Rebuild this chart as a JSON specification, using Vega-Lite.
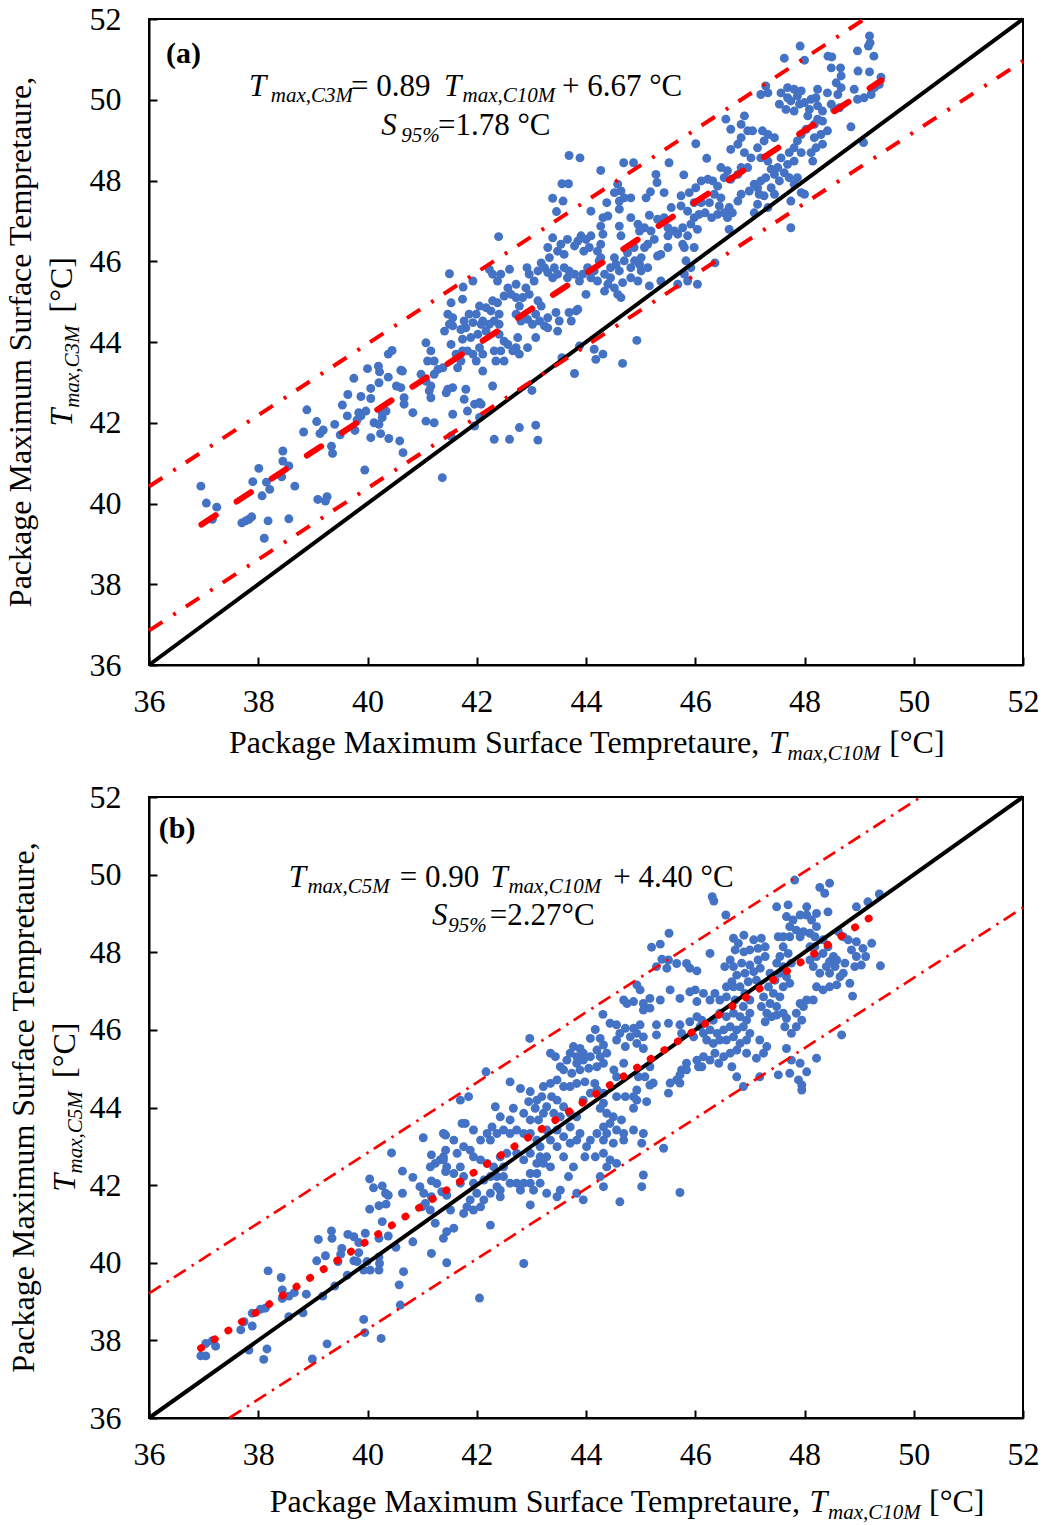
{
"$schema": "https://vega.github.io/schema/vega-lite/v6.json",
"background": "white",
"padding": {"left": 4, "top": 2, "right": 5, "bottom": 0},
"spacing": 15,
"config": {
  "view": {"stroke": "black", "strokeWidth": 2},
  "axis": {"grid": false, "domainColor": "black", "domainWidth": 2, "tickColor": "black", "tickWidth": 2, "tickSize": -8, "labelFont": "Liberation Serif", "labelFontSize": 32, "labelColor": "black", "labelFlush": false, "labelOverlap": false}
},
"datasets": {
"a": [
{"x":36.95,"y":40.43},{"x":37.05,"y":40.01},{"x":37.24,"y":39.91},{"x":37.16,"y":39.61},{"x":37.70,"y":39.52},{"x":37.77,"y":39.57},{"x":37.83,"y":39.61},{"x":37.88,"y":39.67},{"x":38.11,"y":39.14},{"x":38.18,"y":39.57},{"x":38.56,"y":39.62},{"x":38.07,"y":40.19},{"x":37.90,"y":40.54},{"x":38.01,"y":40.87},{"x":38.15,"y":40.53},{"x":38.21,"y":40.35},{"x":38.43,"y":40.66},{"x":38.45,"y":41.05},{"x":38.45,"y":41.30},{"x":38.56,"y":40.93},{"x":38.67,"y":40.43},{"x":39.09,"y":40.10},{"x":39.26,"y":40.17},{"x":39.23,"y":40.06},{"x":38.83,"y":41.77},{"x":38.89,"y":42.32},{"x":39.07,"y":42.03},{"x":39.13,"y":41.73},{"x":39.19,"y":41.82},{"x":39.34,"y":41.42},{"x":39.36,"y":41.24},{"x":39.40,"y":41.96},{"x":39.50,"y":41.70},{"x":39.54,"y":42.44},{"x":39.64,"y":42.70},{"x":39.63,"y":42.17},{"x":39.75,"y":43.10},{"x":39.77,"y":41.81},{"x":39.84,"y":42.25},{"x":39.88,"y":42.17},{"x":39.81,"y":42.07},{"x":39.88,"y":42.65},{"x":39.97,"y":42.29},{"x":40.00,"y":43.34},{"x":40.06,"y":42.85},{"x":40.06,"y":42.60},{"x":39.95,"y":40.83},{"x":40.06,"y":41.63},{"x":40.12,"y":42.00},{"x":40.21,"y":41.96},{"x":40.27,"y":42.13},{"x":40.20,"y":43.40},{"x":40.22,"y":43.26},{"x":40.21,"y":42.99},{"x":40.27,"y":42.25},{"x":40.34,"y":42.29},{"x":40.24,"y":41.73},{"x":40.39,"y":41.61},{"x":40.38,"y":43.13},{"x":40.38,"y":43.70},{"x":40.45,"y":43.79},{"x":40.53,"y":42.91},{"x":40.61,"y":43.30},{"x":40.59,"y":41.55},{"x":40.65,"y":41.26},{"x":41.37,"y":40.64},
{"x":43.69,"y":48.62},{"x":43.89,"y":48.56},{"x":44.27,"y":48.25},{"x":44.69,"y":48.44},{"x":44.87,"y":48.44},{"x":45.52,"y":48.44},{"x":46.01,"y":48.91},{"x":45.28,"y":48.15},{"x":45.30,"y":47.95},{"x":45.79,"y":48.14},{"x":43.56,"y":47.92},{"x":43.68,"y":47.92},{"x":43.39,"y":47.56},{"x":43.58,"y":47.49},{"x":43.46,"y":47.23},{"x":44.58,"y":47.91},{"x":44.64,"y":47.74},{"x":44.52,"y":47.70},{"x":44.70,"y":47.57},{"x":44.82,"y":47.57},{"x":44.61,"y":47.49},{"x":44.38,"y":47.45},{"x":45.18,"y":47.72},{"x":45.10,"y":47.57},{"x":45.43,"y":47.70},{"x":45.74,"y":47.62},{"x":45.89,"y":47.70},{"x":46.01,"y":47.82},{"x":45.98,"y":47.45},{"x":45.74,"y":47.37},{"x":45.56,"y":47.33},{"x":45.86,"y":47.24},{"x":45.98,"y":47.08},{"x":46.07,"y":47.16},{"x":44.09,"y":47.24},{"x":44.31,"y":47.08},{"x":44.40,"y":47.12},{"x":44.61,"y":47.29},{"x":44.82,"y":47.08},{"x":45.16,"y":47.14},{"x":45.31,"y":47.04},{"x":45.43,"y":47.08},{"x":44.27,"y":46.87},{"x":44.31,"y":46.67},{"x":44.61,"y":46.87},{"x":44.64,"y":46.63},{"x":44.95,"y":46.92},{"x":45.07,"y":46.83},{"x":44.98,"y":46.75},{"x":45.19,"y":46.75},{"x":45.25,"y":46.54},{"x":45.13,"y":46.42},{"x":45.50,"y":46.83},{"x":45.62,"y":46.75},{"x":45.77,"y":46.83},{"x":45.92,"y":46.92},{"x":46.04,"y":46.79},{"x":45.50,"y":46.63},{"x":45.68,"y":46.67},{"x":45.86,"y":46.63},{"x":45.98,"y":46.34},{"x":45.80,"y":46.34},{"x":45.77,"y":46.42},{"x":45.50,"y":46.34},{"x":45.37,"y":46.17},{"x":45.31,"y":46.13},{"x":45.07,"y":46.34},{"x":45.01,"y":46.09},{"x":44.98,"y":45.92},{"x":44.88,"y":46.34},{"x":44.76,"y":46.21},{"x":44.70,"y":46.01},{"x":44.82,"y":45.84},{"x":44.52,"y":46.09},{"x":44.55,"y":45.92},{"x":44.61,"y":45.76},{"x":44.27,"y":46.42},{"x":44.21,"y":46.25},{"x":44.27,"y":46.09},{"x":43.91,"y":46.63},{"x":44.00,"y":46.54},{"x":44.09,"y":46.63},{"x":43.85,"y":46.50},{"x":43.79,"y":46.38},{"x":43.96,"y":46.25},{"x":44.06,"y":46.34},{"x":43.66,"y":46.54},{"x":43.54,"y":46.42},{"x":43.48,"y":46.25},{"x":43.60,"y":46.17},{"x":43.39,"y":46.58},{"x":43.30,"y":46.34},{"x":43.33,"y":46.09},{"x":43.18,"y":45.96},{"x":43.24,"y":45.84},{"x":43.12,"y":45.76},{"x":43.42,"y":45.84},{"x":43.48,"y":45.68},{"x":43.39,"y":45.59},{"x":43.60,"y":45.84},{"x":43.69,"y":45.76},{"x":43.66,"y":45.59},{"x":43.79,"y":45.68},{"x":43.88,"y":45.51},{"x":43.94,"y":45.68},{"x":44.03,"y":45.84},{"x":44.15,"y":45.76},{"x":44.09,"y":45.59},{"x":44.21,"y":45.51},{"x":44.34,"y":45.68},{"x":44.40,"y":45.43},{"x":44.34,"y":45.26},{"x":44.24,"y":46.01},{"x":44.45,"y":45.84},{"x":44.45,"y":45.59},{"x":44.52,"y":45.34},{"x":44.58,"y":45.18},{"x":44.64,"y":45.10},{"x":44.67,"y":45.47},{"x":44.82,"y":45.59},{"x":44.95,"y":45.51},{"x":44.89,"y":46.01},{"x":45.01,"y":45.76},{"x":45.13,"y":45.84},{"x":45.16,"y":45.39},{"x":45.37,"y":45.51},{"x":45.68,"y":45.43},{"x":45.86,"y":45.51},{"x":46.04,"y":45.43},{"x":44.00,"y":45.18},{"x":43.82,"y":44.77},{"x":43.69,"y":44.73},{"x":43.73,"y":44.52},{"x":43.85,"y":44.81},{"x":43.45,"y":44.73},{"x":43.51,"y":44.52},{"x":43.48,"y":44.27},{"x":43.30,"y":44.60},{"x":43.24,"y":44.40},{"x":43.30,"y":44.35},{"x":43.12,"y":45.02},{"x":43.18,"y":44.89},{"x":43.08,"y":44.69},{"x":43.15,"y":44.52},{"x":42.93,"y":44.56},{"x":43.02,"y":44.44},{"x":43.05,"y":45.51},{"x":42.90,"y":45.34},{"x":42.96,"y":45.18},{"x":42.84,"y":45.10},{"x":42.72,"y":45.10},{"x":42.92,"y":45.84},{"x":42.96,"y":45.68},{"x":42.78,"y":44.89},{"x":42.72,"y":44.69},{"x":42.81,"y":44.52},{"x":42.75,"y":44.11},{"x":42.72,"y":43.86},{"x":42.60,"y":45.80},{"x":42.44,"y":45.68},{"x":42.38,"y":45.51},{"x":42.57,"y":45.34},{"x":42.23,"y":45.80},{"x":42.29,"y":45.68},{"x":42.40,"y":46.61},{"x":42.63,"y":45.18},{"x":42.50,"y":45.14},{"x":42.38,"y":44.97},{"x":42.29,"y":45.02},{"x":42.41,"y":44.69},{"x":42.26,"y":44.77},{"x":42.32,"y":44.52},{"x":42.17,"y":44.85},{"x":42.05,"y":44.89},{"x":41.99,"y":44.69},{"x":42.11,"y":44.52},{"x":42.41,"y":44.44},{"x":42.41,"y":44.19},{"x":42.50,"y":44.02},{"x":42.44,"y":43.78},{"x":42.50,"y":43.53},{"x":42.32,"y":43.78},{"x":42.35,"y":43.53},{"x":42.57,"y":43.94},{"x":42.66,"y":43.78},{"x":42.78,"y":43.70},{"x":42.93,"y":43.86},{"x":43.08,"y":44.11},{"x":42.23,"y":44.44},{"x":42.17,"y":44.27},{"x":42.08,"y":44.44},{"x":41.93,"y":44.48},{"x":42.02,"y":44.19},{"x":41.89,"y":44.11},{"x":41.74,"y":44.07},{"x":41.80,"y":44.35},{"x":41.83,"y":43.78},{"x":41.93,"y":43.70},{"x":42.05,"y":43.86},{"x":42.11,"y":43.70},{"x":41.99,"y":43.53},{"x":42.11,"y":43.28},{"x":41.74,"y":43.78},{"x":41.62,"y":43.70},{"x":41.71,"y":43.53},{"x":41.65,"y":43.36},{"x":41.53,"y":43.94},{"x":41.41,"y":44.27},{"x":41.56,"y":44.40},{"x":41.71,"y":44.31},{"x":41.53,"y":44.97},{"x":41.74,"y":45.06},{"x":41.86,"y":44.69},{"x":41.77,"y":44.52},{"x":41.75,"y":45.36},{"x":41.93,"y":45.51},{"x":41.50,"y":45.69},{"x":41.47,"y":44.69},{"x":41.56,"y":44.60},{"x":41.50,"y":44.44},{"x":41.07,"y":43.98},{"x":41.16,"y":43.78},{"x":41.22,"y":43.53},{"x":41.10,"y":43.53},{"x":40.98,"y":43.20},{"x":41.07,"y":43.03},{"x":41.22,"y":43.20},{"x":41.29,"y":43.32},{"x":41.38,"y":43.36},{"x":41.16,"y":42.91},{"x":41.13,"y":42.79},{"x":41.16,"y":42.62},{"x":41.47,"y":42.83},{"x":41.44,"y":42.74},{"x":41.56,"y":42.87},{"x":41.80,"y":42.83},{"x":41.77,"y":42.58},{"x":41.83,"y":42.29},{"x":41.96,"y":42.46},{"x":42.05,"y":42.50},{"x":42.08,"y":42.46},{"x":41.56,"y":42.21},{"x":42.29,"y":42.91},{"x":42.05,"y":42.13},{"x":41.96,"y":41.92},{"x":41.07,"y":42.04},{"x":41.22,"y":42.00},{"x":40.83,"y":42.25},{"x":40.67,"y":42.46},{"x":40.67,"y":42.62},{"x":40.64,"y":43.28},{"x":40.61,"y":42.87},{"x":41.53,"y":41.67},{"x":42.32,"y":41.59},{"x":42.60,"y":41.59},{"x":42.78,"y":41.88},{"x":43.08,"y":41.94},{"x":43.12,"y":41.57},{"x":43.01,"y":42.80},{"x":43.56,"y":43.61},{"x":43.88,"y":43.90},{"x":43.79,"y":43.22},{"x":44.15,"y":43.82},{"x":44.18,"y":43.57},{"x":44.31,"y":43.70},{"x":44.67,"y":43.47},{"x":44.93,"y":44.04},{"x":43.30,"y":45.72},{"x":42.72,"y":45.43},
{"x":49.19,"y":51.58},{"x":49.20,"y":51.41},{"x":49.17,"y":51.33},{"x":47.92,"y":51.33},{"x":47.63,"y":51.03},{"x":48.00,"y":50.98},{"x":48.43,"y":51.08},{"x":48.50,"y":51.06},{"x":48.49,"y":50.79},{"x":48.97,"y":51.21},{"x":49.27,"y":51.08},{"x":48.66,"y":50.79},{"x":48.67,"y":50.59},{"x":48.98,"y":50.71},{"x":49.19,"y":50.69},{"x":49.40,"y":50.56},{"x":49.37,"y":50.38},{"x":49.28,"y":50.30},{"x":49.22,"y":50.13},{"x":49.09,"y":50.05},{"x":48.97,"y":50.01},{"x":48.91,"y":50.26},{"x":48.58,"y":50.42},{"x":48.67,"y":50.30},{"x":48.61,"y":50.13},{"x":48.49,"y":49.89},{"x":48.55,"y":49.76},{"x":48.64,"y":49.80},{"x":48.24,"y":50.26},{"x":48.42,"y":50.17},{"x":47.29,"y":50.34},{"x":47.33,"y":50.17},{"x":47.20,"y":50.13},{"x":47.57,"y":50.17},{"x":47.69,"y":50.30},{"x":47.81,"y":50.26},{"x":47.94,"y":50.22},{"x":47.87,"y":50.09},{"x":47.75,"y":49.97},{"x":47.69,"y":50.05},{"x":47.54,"y":49.89},{"x":47.66,"y":49.76},{"x":47.81,"y":49.72},{"x":47.91,"y":49.89},{"x":48.00,"y":49.93},{"x":48.12,"y":50.01},{"x":48.21,"y":50.05},{"x":48.09,"y":49.76},{"x":48.24,"y":49.85},{"x":48.33,"y":49.72},{"x":48.24,"y":49.52},{"x":48.06,"y":49.60},{"x":48.18,"y":49.39},{"x":48.33,"y":49.47},{"x":48.42,"y":49.23},{"x":48.30,"y":49.14},{"x":48.18,"y":49.06},{"x":48.33,"y":48.90},{"x":48.21,"y":48.81},{"x":48.12,"y":48.69},{"x":48.15,"y":48.48},{"x":48.85,"y":49.33},{"x":49.08,"y":48.94},{"x":48.03,"y":49.27},{"x":47.94,"y":49.14},{"x":47.87,"y":48.98},{"x":47.81,"y":48.81},{"x":47.72,"y":48.69},{"x":47.94,"y":48.69},{"x":47.81,"y":48.48},{"x":47.69,"y":48.40},{"x":47.57,"y":48.56},{"x":47.51,"y":48.32},{"x":47.63,"y":48.19},{"x":47.72,"y":48.07},{"x":47.87,"y":48.07},{"x":47.81,"y":47.91},{"x":47.94,"y":47.70},{"x":48.00,"y":47.66},{"x":47.75,"y":47.49},{"x":47.45,"y":48.15},{"x":47.54,"y":47.99},{"x":47.39,"y":47.82},{"x":47.45,"y":47.66},{"x":47.33,"y":47.33},{"x":47.26,"y":47.62},{"x":47.17,"y":47.66},{"x":47.14,"y":47.82},{"x":47.20,"y":47.99},{"x":47.29,"y":48.07},{"x":47.39,"y":48.28},{"x":47.33,"y":48.48},{"x":47.20,"y":48.56},{"x":47.14,"y":48.81},{"x":47.26,"y":48.98},{"x":47.33,"y":49.14},{"x":47.23,"y":49.23},{"x":47.45,"y":49.06},{"x":46.90,"y":49.60},{"x":46.56,"y":49.52},{"x":46.65,"y":49.27},{"x":46.84,"y":49.39},{"x":46.96,"y":49.23},{"x":47.05,"y":49.23},{"x":46.84,"y":49.06},{"x":46.78,"y":48.90},{"x":46.65,"y":48.77},{"x":46.90,"y":48.69},{"x":47.02,"y":48.56},{"x":46.96,"y":48.32},{"x":46.84,"y":48.32},{"x":46.78,"y":48.15},{"x":46.65,"y":48.03},{"x":46.53,"y":48.07},{"x":46.47,"y":48.32},{"x":46.59,"y":48.24},{"x":46.21,"y":48.55},{"x":46.11,"y":47.99},{"x":46.23,"y":48.03},{"x":46.32,"y":47.99},{"x":46.41,"y":47.86},{"x":46.35,"y":47.66},{"x":46.47,"y":47.57},{"x":46.44,"y":47.37},{"x":46.26,"y":47.45},{"x":46.11,"y":47.45},{"x":46.18,"y":47.20},{"x":46.30,"y":47.08},{"x":46.41,"y":47.16},{"x":46.53,"y":47.20},{"x":46.62,"y":47.33},{"x":46.68,"y":47.20},{"x":46.59,"y":47.08},{"x":46.62,"y":46.79},{"x":46.78,"y":47.49},{"x":46.84,"y":47.66},{"x":46.99,"y":47.74},{"x":47.08,"y":47.91},{"x":47.14,"y":47.41},{"x":47.08,"y":47.20},{"x":47.75,"y":46.83},{"x":46.36,"y":45.96},{"x":45.83,"y":46.01},{"x":45.92,"y":45.84},{"x":45.80,"y":45.68}
],
"b": [
{"x":36.95,"y":37.60},{"x":37.04,"y":37.60},{"x":37.04,"y":37.92},{"x":37.16,"y":37.99},{"x":37.22,"y":37.85},{"x":37.68,"y":38.27},{"x":37.74,"y":38.48},{"x":37.89,"y":38.37},{"x":37.83,"y":37.75},{"x":38.16,"y":37.78},{"x":38.10,"y":37.51},{"x":37.89,"y":38.70},{"x":38.04,"y":38.80},{"x":38.13,"y":38.83},{"x":38.56,"y":38.61},{"x":38.82,"y":38.71},{"x":38.44,"y":39.08},{"x":38.44,"y":39.30},{"x":38.56,"y":39.14},{"x":38.66,"y":39.23},{"x":38.42,"y":39.62},{"x":38.18,"y":39.79},{"x":38.88,"y":39.19},{"x":39.18,"y":39.14},{"x":39.40,"y":39.40},{"x":39.63,"y":39.68},{"x":39.07,"y":40.05},{"x":39.23,"y":40.18},{"x":39.46,"y":40.03},{"x":39.10,"y":40.60},{"x":39.34,"y":40.82},{"x":39.35,"y":40.63},{"x":39.51,"y":40.22},{"x":39.53,"y":40.37},{"x":39.64,"y":40.73},{"x":39.75,"y":40.67},{"x":39.84,"y":40.52},{"x":39.96,"y":40.76},{"x":39.75,"y":40.05},{"x":39.84,"y":40.26},{"x":39.81,"y":40.03},{"x":39.93,"y":39.81},{"x":39.99,"y":40.03},{"x":40.05,"y":39.81},{"x":40.21,"y":39.81},{"x":40.22,"y":39.98},{"x":40.21,"y":40.15},{"x":40.04,"y":41.38},{"x":40.04,"y":42.16},{"x":40.11,"y":41.93},{"x":40.27,"y":41.98},{"x":40.33,"y":41.79},{"x":40.38,"y":41.74},{"x":40.34,"y":41.51},{"x":40.21,"y":41.47},{"x":40.27,"y":41.06},{"x":40.21,"y":40.63},{"x":40.38,"y":40.69},{"x":40.44,"y":42.83},{"x":40.52,"y":40.40},{"x":40.64,"y":42.36},{"x":40.64,"y":41.79},{"x":40.83,"y":42.20},{"x":40.66,"y":39.77},{"x":40.58,"y":39.43},{"x":40.60,"y":38.91},{"x":39.93,"y":38.54},{"x":39.95,"y":38.20},{"x":40.25,"y":38.05},{"x":39.26,"y":37.91},{"x":38.99,"y":37.52},{"x":40.83,"y":40.54},{"x":41.02,"y":43.22},{"x":40.96,"y":41.96},{"x":41.03,"y":41.79},{"x":41.17,"y":41.70},{"x":41.06,"y":41.53},{"x":41.15,"y":41.36},{"x":41.00,"y":41.44},{"x":41.17,"y":42.78},{"x":41.15,"y":42.47},{"x":41.24,"y":42.56},{"x":41.33,"y":42.65},{"x":41.39,"y":42.73},{"x":41.43,"y":43.29},{"x":41.45,"y":42.47},{"x":41.43,"y":42.35},{"x":41.17,"y":42.11},{"x":41.24,"y":41.02},{"x":41.17,"y":40.24},{"x":41.39,"y":40.63},{"x":41.45,"y":40.80},{"x":41.45,"y":40.00},{"x":41.36,"y":41.83},{"x":41.45,"y":41.74},{"x":42.05,"y":39.09},{"x":42.86,"y":39.98},
{"x":45.52,"y":48.49},{"x":45.20,"y":48.13},{"x":45.36,"y":48.21},{"x":45.39,"y":47.82},{"x":45.51,"y":47.80},{"x":45.29,"y":47.63},{"x":45.48,"y":47.59},{"x":45.66,"y":47.71},{"x":45.84,"y":47.71},{"x":45.90,"y":47.59},{"x":46.03,"y":47.52},{"x":44.93,"y":47.16},{"x":44.99,"y":47.03},{"x":45.54,"y":47.03},{"x":45.72,"y":46.81},{"x":45.90,"y":46.98},{"x":46.00,"y":47.03},{"x":46.03,"y":46.73},{"x":45.17,"y":46.81},{"x":45.36,"y":46.77},{"x":45.05,"y":46.68},{"x":44.75,"y":46.68},{"x":44.69,"y":46.77},{"x":44.87,"y":46.73},{"x":45.05,"y":46.51},{"x":45.17,"y":46.56},{"x":44.31,"y":46.40},{"x":44.44,"y":46.17},{"x":44.56,"y":46.13},{"x":44.72,"y":46.04},{"x":44.87,"y":46.04},{"x":44.99,"y":46.13},{"x":44.93,"y":45.91},{"x":45.05,"y":45.82},{"x":44.81,"y":45.82},{"x":44.62,"y":45.91},{"x":44.56,"y":45.74},{"x":44.72,"y":45.57},{"x":44.93,"y":45.65},{"x":45.05,"y":45.52},{"x":45.29,"y":46.13},{"x":45.29,"y":45.87},{"x":45.51,"y":46.17},{"x":45.72,"y":46.13},{"x":45.90,"y":46.21},{"x":46.03,"y":46.34},{"x":46.12,"y":46.25},{"x":45.75,"y":45.91},{"x":45.97,"y":45.82},{"x":44.17,"y":46.01},{"x":44.26,"y":45.78},{"x":44.08,"y":45.78},{"x":42.97,"y":45.78},{"x":43.77,"y":45.57},{"x":43.89,"y":45.52},{"x":43.95,"y":45.40},{"x":43.83,"y":45.31},{"x":43.71,"y":45.40},{"x":43.65,"y":45.22},{"x":43.83,"y":45.14},{"x":43.95,"y":45.22},{"x":44.08,"y":45.31},{"x":44.20,"y":45.48},{"x":44.32,"y":45.61},{"x":44.38,"y":45.40},{"x":44.26,"y":45.31},{"x":44.32,"y":45.14},{"x":44.20,"y":45.05},{"x":44.05,"y":45.01},{"x":43.89,"y":44.97},{"x":43.74,"y":44.88},{"x":43.59,"y":44.97},{"x":43.53,"y":45.05},{"x":43.44,"y":45.31},{"x":43.35,"y":45.40},{"x":44.69,"y":45.14},{"x":44.51,"y":44.97},{"x":44.56,"y":44.79},{"x":45.17,"y":44.58},{"x":44.96,"y":44.79},{"x":44.93,"y":44.45},{"x":45.51,"y":44.37},{"x":45.66,"y":44.71},{"x":45.75,"y":44.97},{"x":45.84,"y":45.14},{"x":46.03,"y":45.22},{"x":46.12,"y":45.05},{"x":45.84,"y":44.97},{"x":45.72,"y":44.84},{"x":44.87,"y":44.28},{"x":44.93,"y":44.19},{"x":45.11,"y":44.15},{"x":44.87,"y":43.98},{"x":44.72,"y":44.28},{"x":44.56,"y":44.28},{"x":44.32,"y":44.11},{"x":44.26,"y":43.98},{"x":44.38,"y":43.85},{"x":44.50,"y":43.76},{"x":44.65,"y":43.68},{"x":44.44,"y":43.59},{"x":44.32,"y":43.50},{"x":44.38,"y":43.33},{"x":44.56,"y":43.42},{"x":44.69,"y":43.33},{"x":44.87,"y":43.42},{"x":44.69,"y":43.16},{"x":44.50,"y":43.08},{"x":44.32,"y":43.16},{"x":44.20,"y":43.33},{"x":44.08,"y":43.16},{"x":45.02,"y":43.08},{"x":45.05,"y":43.33},{"x":45.42,"y":42.95},{"x":44.01,"y":42.99},{"x":43.98,"y":42.73},{"x":44.17,"y":42.73},{"x":44.32,"y":42.82},{"x":44.44,"y":42.65},{"x":44.56,"y":42.56},{"x":44.38,"y":42.47},{"x":45.05,"y":42.26},{"x":45.02,"y":41.96},{"x":44.32,"y":41.96},{"x":44.26,"y":42.22},{"x":44.62,"y":41.57},{"x":45.72,"y":41.81},{"x":43.95,"y":41.62},{"x":43.83,"y":41.79},{"x":43.53,"y":41.87},{"x":43.47,"y":41.70},{"x":43.28,"y":41.79},{"x":43.77,"y":42.47},{"x":43.68,"y":42.22},{"x":43.59,"y":42.73},{"x":43.47,"y":42.99},{"x":43.35,"y":43.16},{"x":43.28,"y":43.42},{"x":43.47,"y":43.42},{"x":43.59,"y":43.25},{"x":43.71,"y":43.08},{"x":43.83,"y":43.16},{"x":43.89,"y":43.33},{"x":43.71,"y":43.50},{"x":43.53,"y":43.76},{"x":43.41,"y":43.85},{"x":43.28,"y":44.02},{"x":43.47,"y":44.19},{"x":43.59,"y":44.02},{"x":43.71,"y":43.85},{"x":43.83,"y":43.76},{"x":43.95,"y":44.19},{"x":44.08,"y":44.37},{"x":44.20,"y":44.45},{"x":44.32,"y":44.37},{"x":44.16,"y":44.62},{"x":43.98,"y":44.66},{"x":43.83,"y":44.62},{"x":43.71,"y":44.54},{"x":43.59,"y":44.54},{"x":43.47,"y":44.71},{"x":43.35,"y":44.62},{"x":43.22,"y":44.54},{"x":43.19,"y":44.28},{"x":43.37,"y":44.28},
{"x":42.61,"y":44.66},{"x":42.80,"y":44.49},{"x":42.98,"y":44.41},{"x":42.95,"y":44.15},{"x":43.10,"y":44.19},{"x":43.07,"y":43.98},{"x":43.22,"y":43.85},{"x":43.13,"y":43.68},{"x":42.98,"y":43.68},{"x":42.86,"y":43.85},{"x":42.67,"y":43.98},{"x":42.61,"y":43.68},{"x":42.43,"y":43.76},{"x":42.34,"y":44.02},{"x":42.28,"y":43.50},{"x":42.19,"y":43.33},{"x":42.07,"y":43.16},{"x":42.25,"y":43.16},{"x":42.37,"y":43.33},{"x":42.49,"y":43.42},{"x":42.61,"y":43.33},{"x":42.73,"y":43.42},{"x":42.86,"y":43.33},{"x":42.98,"y":43.33},{"x":43.10,"y":43.16},{"x":43.16,"y":42.99},{"x":42.98,"y":42.82},{"x":42.86,"y":42.65},{"x":42.73,"y":42.82},{"x":42.55,"y":42.82},{"x":42.43,"y":42.73},{"x":42.49,"y":42.47},{"x":42.31,"y":42.47},{"x":42.19,"y":42.56},{"x":42.07,"y":42.65},{"x":41.94,"y":42.73},{"x":41.88,"y":42.90},{"x":41.76,"y":42.99},{"x":41.64,"y":42.82},{"x":41.58,"y":43.16},{"x":41.39,"y":43.33},{"x":41.43,"y":42.90},{"x":41.39,"y":42.65},{"x":41.27,"y":42.04},{"x":41.58,"y":42.30},{"x":41.70,"y":42.47},{"x":41.76,"y":42.22},{"x":41.70,"y":42.05},{"x":41.94,"y":42.05},{"x":42.00,"y":41.79},{"x":41.88,"y":41.62},{"x":41.82,"y":41.44},{"x":41.94,"y":41.36},{"x":42.07,"y":41.44},{"x":42.13,"y":41.62},{"x":42.25,"y":41.79},{"x":42.37,"y":41.96},{"x":42.37,"y":42.22},{"x":42.25,"y":42.22},{"x":42.13,"y":42.13},{"x":42.49,"y":42.22},{"x":42.43,"y":41.87},{"x":42.43,"y":41.70},{"x":42.61,"y":42.05},{"x":42.73,"y":42.05},{"x":42.80,"y":41.87},{"x":42.86,"y":42.05},{"x":42.98,"y":42.05},{"x":42.98,"y":42.30},{"x":43.10,"y":42.30},{"x":43.10,"y":42.56},{"x":43.22,"y":42.56},{"x":43.35,"y":42.47},{"x":43.28,"y":42.73},{"x":43.16,"y":42.73},{"x":43.16,"y":42.05},{"x":42.98,"y":41.49},{"x":43.04,"y":41.87},{"x":42.25,"y":40.97},{"x":41.76,"y":41.27},{"x":41.52,"y":41.36},{"x":41.58,"y":40.89},{"x":42.17,"y":44.92},{"x":41.70,"y":44.19},{"x":41.85,"y":44.28},{"x":41.73,"y":43.59},{"x":41.79,"y":43.59},{"x":41.94,"y":43.42},
{"x":47.82,"y":49.86},{"x":46.31,"y":49.43},{"x":46.34,"y":49.32},{"x":46.56,"y":48.96},{"x":47.49,"y":49.17},{"x":47.70,"y":49.22},{"x":48.04,"y":49.17},{"x":48.28,"y":49.67},{"x":48.37,"y":49.52},{"x":48.46,"y":49.78},{"x":48.22,"y":49.00},{"x":48.43,"y":49.04},{"x":48.95,"y":49.17},{"x":49.16,"y":49.30},{"x":49.37,"y":49.50},{"x":47.67,"y":48.92},{"x":47.79,"y":48.83},{"x":47.92,"y":48.96},{"x":48.04,"y":48.96},{"x":48.13,"y":48.83},{"x":48.22,"y":48.66},{"x":47.73,"y":48.66},{"x":47.85,"y":48.57},{"x":47.98,"y":48.53},{"x":48.10,"y":48.49},{"x":47.92,"y":48.40},{"x":47.73,"y":48.40},{"x":47.61,"y":48.40},{"x":47.52,"y":48.40},{"x":48.19,"y":48.40},{"x":48.34,"y":48.32},{"x":48.62,"y":48.53},{"x":48.43,"y":48.14},{"x":48.53,"y":47.89},{"x":48.46,"y":47.76},{"x":48.56,"y":47.63},{"x":48.95,"y":48.27},{"x":49.12,"y":47.89},{"x":49.23,"y":48.23},{"x":49.04,"y":47.67},{"x":48.92,"y":47.63},{"x":49.39,"y":47.65},{"x":48.71,"y":47.46},{"x":48.83,"y":47.20},{"x":48.65,"y":47.37},{"x":48.59,"y":47.16},{"x":48.88,"y":46.87},{"x":48.68,"y":45.87},{"x":47.61,"y":48.14},{"x":47.70,"y":47.97},{"x":47.55,"y":47.89},{"x":47.76,"y":47.72},{"x":47.61,"y":47.63},{"x":47.49,"y":47.72},{"x":47.55,"y":47.46},{"x":47.67,"y":47.37},{"x":47.73,"y":47.20},{"x":47.61,"y":47.11},{"x":47.46,"y":47.28},{"x":47.37,"y":47.46},{"x":47.34,"y":47.11},{"x":47.43,"y":46.94},{"x":47.55,"y":46.85},{"x":47.49,"y":46.60},{"x":47.37,"y":46.68},{"x":47.25,"y":46.85},{"x":47.21,"y":46.60},{"x":47.31,"y":46.43},{"x":47.28,"y":46.21},{"x":47.40,"y":46.34},{"x":47.49,"y":46.38},{"x":47.61,"y":46.43},{"x":47.67,"y":46.30},{"x":47.64,"y":46.08},{"x":47.76,"y":45.91},{"x":47.85,"y":46.08},{"x":47.95,"y":46.25},{"x":47.85,"y":46.43},{"x":47.92,"y":46.68},{"x":47.98,"y":46.60},{"x":48.04,"y":46.77},{"x":48.16,"y":46.77},{"x":48.22,"y":47.11},{"x":48.28,"y":47.46},{"x":48.16,"y":47.63},{"x":48.10,"y":47.80},{"x":48.22,"y":47.89},{"x":48.34,"y":47.97},{"x":48.40,"y":47.63},{"x":48.46,"y":47.46},{"x":48.46,"y":47.11},{"x":48.34,"y":47.03},{"x":48.19,"y":48.14},{"x":48.10,"y":48.14},{"x":46.27,"y":47.97},{"x":46.70,"y":48.36},{"x":46.89,"y":48.44},{"x":46.79,"y":48.23},{"x":47.07,"y":48.32},{"x":47.21,"y":48.36},{"x":47.28,"y":48.14},{"x":47.15,"y":48.10},{"x":47.00,"y":48.06},{"x":46.89,"y":48.01},{"x":46.73,"y":48.06},{"x":46.64,"y":47.80},{"x":46.54,"y":47.63},{"x":46.70,"y":47.63},{"x":46.85,"y":47.72},{"x":47.00,"y":47.67},{"x":47.15,"y":47.80},{"x":47.28,"y":47.89},{"x":47.19,"y":47.59},{"x":47.07,"y":47.50},{"x":46.91,"y":47.46},{"x":46.76,"y":47.41},{"x":46.67,"y":47.24},{"x":46.57,"y":47.11},{"x":46.70,"y":47.11},{"x":46.82,"y":47.11},{"x":46.97,"y":47.24},{"x":47.12,"y":47.28},{"x":46.91,"y":46.94},{"x":47.00,"y":46.77},{"x":46.88,"y":46.60},{"x":46.73,"y":46.77},{"x":46.57,"y":46.85},{"x":46.45,"y":46.77},{"x":46.36,"y":46.94},{"x":46.27,"y":46.77},{"x":46.15,"y":46.94},{"x":46.45,"y":46.43},{"x":46.33,"y":46.25},{"x":46.57,"y":46.34},{"x":46.70,"y":46.43},{"x":46.82,"y":46.34},{"x":46.94,"y":46.25},{"x":47.00,"y":46.43},{"x":46.88,"y":46.08},{"x":46.76,"y":46.00},{"x":46.64,"y":46.08},{"x":46.52,"y":46.00},{"x":46.40,"y":45.91},{"x":46.27,"y":46.00},{"x":46.15,"y":45.91},{"x":46.09,"y":46.08},{"x":46.21,"y":45.74},{"x":46.33,"y":45.65},{"x":46.45,"y":45.74},{"x":46.57,"y":45.74},{"x":46.70,"y":45.82},{"x":46.82,"y":45.65},{"x":46.94,"y":45.74},{"x":47.00,"y":45.91},{"x":47.18,"y":45.74},{"x":47.31,"y":45.57},{"x":47.25,"y":45.40},{"x":47.12,"y":45.27},{"x":46.94,"y":45.40},{"x":46.76,"y":45.48},{"x":46.64,"y":45.40},{"x":46.52,"y":45.31},{"x":46.43,"y":45.14},{"x":46.36,"y":45.40},{"x":46.27,"y":45.22},{"x":46.15,"y":45.31},{"x":46.06,"y":45.05},{"x":45.72,"y":44.63},{"x":45.54,"y":44.63},{"x":45.17,"y":45.05},{"x":45.23,"y":44.63},{"x":45.08,"y":44.79},{"x":47.67,"y":45.52},{"x":47.76,"y":45.22},{"x":47.92,"y":45.14},{"x":48.04,"y":44.92},{"x":47.89,"y":44.71},{"x":47.73,"y":44.88},{"x":47.52,"y":44.84},{"x":47.18,"y":44.79},{"x":46.76,"y":44.79},{"x":46.88,"y":44.54},{"x":46.67,"y":45.05},{"x":48.22,"y":45.27},{"x":47.95,"y":44.58},{"x":47.95,"y":44.45},{"x":48.59,"y":47.80},{"x":48.74,"y":47.72},{"x":48.86,"y":48.06},{"x":48.95,"y":47.89},{"x":49.07,"y":48.10},{"x":48.80,"y":48.32},{"x":48.71,"y":48.40}
]
},
"vconcat": [
{
"width": 874, "height": 646,
"encoding": {
  "x": {"field": "x", "type": "quantitative", "scale": {"domain": [36, 52], "nice": false, "zero": false}, "axis": {"values": [36,38,40,42,44,46,48,50,52], "title": null, "labelPadding": 29}},
  "y": {"field": "y", "type": "quantitative", "scale": {"domain": [36, 52], "nice": false, "zero": false}, "axis": {"values": [36,38,40,42,44,46,48,50,52], "title": null, "labelPadding": 36}}
},
"layer": [
  {"data": {"name": "a"}, "mark": {"type": "circle", "size": 80, "color": "#4472C4", "opacity": 1}},
  {"data": {"values": [{"x": 36, "y": 36}, {"x": 52, "y": 52}]}, "mark": {"type": "line", "color": "black", "strokeWidth": 4}, "encoding": {}},
  {"data": {"values": [{"x": 36, "y": 40.42}, {"x": 49.1, "y": 52}]}, "mark": {"type": "line", "color": "#FF0000", "strokeWidth": 4, "strokeDash": [16, 13, 3, 12]}, "encoding": {}},
  {"data": {"values": [{"x": 36, "y": 36.85}, {"x": 52, "y": 50.96}]}, "mark": {"type": "line", "color": "#FF0000", "strokeWidth": 4, "strokeDash": [16, 13, 3, 12]}, "encoding": {}},
  {"data": {"values": [{"x": 36.96, "y": 39.48}, {"x": 49.41, "y": 50.48}]}, "mark": {"type": "line", "color": "#FF0000", "strokeWidth": 6, "strokeDash": [17, 25], "strokeCap": "round"}, "encoding": {}},
  {"data": {"values": [{"x": 37.83, "y": 50.09, "t": "T"}, {"x": 41.40, "y": 50.09, "t": "T"}, {"x": 40.25, "y": 49.13, "t": "S"}]}, "mark": {"type": "text", "font": "Liberation Serif", "fontSize": 31, "fontStyle": "italic", "align": "left", "baseline": "alphabetic", "color": "black"}, "encoding": {"text": {"field": "t", "type": "nominal"}}},
  {"data": {"values": [{"x": 38.23, "y": 49.945, "t": "max,C3M"}, {"x": 41.74, "y": 49.945, "t": "max,C10M"}, {"x": 40.62, "y": 48.95, "t": "95%"}]}, "mark": {"type": "text", "font": "Liberation Serif", "fontSize": 21, "fontStyle": "italic", "align": "left", "baseline": "alphabetic", "color": "black"}, "encoding": {"text": {"field": "t", "type": "nominal"}}},
  {"data": {"values": [{"x": 39.70, "y": 50.09, "t": "= 0.89"}, {"x": 43.56, "y": 50.09, "t": "+ 6.67 °C"}, {"x": 41.29, "y": 49.13, "t": "=1.78 °C"}]}, "mark": {"type": "text", "font": "Liberation Serif", "fontSize": 31, "align": "left", "baseline": "alphabetic", "color": "black"}, "encoding": {"text": {"field": "t", "type": "nominal"}}},
  {"data": {"values": [{"x": 36.31, "y": 50.91, "t": "(a)"}]}, "mark": {"type": "text", "font": "Liberation Serif", "fontSize": 30, "fontWeight": "bold", "align": "left", "baseline": "alphabetic", "color": "black"}, "encoding": {"text": {"field": "t", "type": "nominal"}}},
  {"data": {"values": [{"x": 37.465, "y": 33.82, "t": "Package Maximum Surface Tempretaure,"}, {"x": 49.55, "y": 33.82, "t": "[°C]"}]}, "mark": {"type": "text", "font": "Liberation Serif", "fontSize": 32, "align": "left", "baseline": "alphabetic", "color": "black"}, "encoding": {"text": {"field": "t", "type": "nominal"}}},
  {"data": {"values": [{"x": 47.35, "y": 33.82, "t": "T"}]}, "mark": {"type": "text", "font": "Liberation Serif", "fontSize": 32, "fontStyle": "italic", "align": "left", "baseline": "alphabetic", "color": "black"}, "encoding": {"text": {"field": "t", "type": "nominal"}}},
  {"data": {"values": [{"x": 47.69, "y": 33.65, "t": "max,C10M"}]}, "mark": {"type": "text", "font": "Liberation Serif", "fontSize": 21, "fontStyle": "italic", "align": "left", "baseline": "alphabetic", "color": "black"}, "encoding": {"text": {"field": "t", "type": "nominal"}}},
  {"data": {"values": [{"x": 33.84, "y": 44.0, "t": "Package Maximum Surface Tempretaure,"}]}, "mark": {"type": "text", "font": "Liberation Serif", "fontSize": 32, "angle": 270, "align": "center", "baseline": "alphabetic", "color": "black"}, "encoding": {"text": {"field": "t", "type": "nominal"}}},
  {"data": {"values": [{"x": 34.59, "y": 41.91, "t": "T"}]}, "mark": {"type": "text", "font": "Liberation Serif", "fontSize": 32, "fontStyle": "italic", "angle": 270, "align": "left", "baseline": "alphabetic", "color": "black"}, "encoding": {"text": {"field": "t", "type": "nominal"}}},
  {"data": {"values": [{"x": 34.72, "y": 42.37, "t": "max,C3M"}]}, "mark": {"type": "text", "font": "Liberation Serif", "fontSize": 21, "fontStyle": "italic", "angle": 270, "align": "left", "baseline": "alphabetic", "color": "black"}, "encoding": {"text": {"field": "t", "type": "nominal"}}},
  {"data": {"values": [{"x": 34.59, "y": 44.73, "t": "[°C]"}]}, "mark": {"type": "text", "font": "Liberation Serif", "fontSize": 32, "angle": 270, "align": "left", "baseline": "alphabetic", "color": "black"}, "encoding": {"text": {"field": "t", "type": "nominal"}}}
]
},
{
"width": 874, "height": 621,
"encoding": {
  "x": {"field": "x", "type": "quantitative", "scale": {"domain": [36, 52], "nice": false, "zero": false}, "axis": {"values": [36,38,40,42,44,46,48,50,52], "title": null, "labelPadding": 29}},
  "y": {"field": "y", "type": "quantitative", "scale": {"domain": [36, 52], "nice": false, "zero": false}, "axis": {"values": [36,38,40,42,44,46,48,50,52], "title": null, "labelPadding": 36}}
},
"layer": [
  {"data": {"name": "b"}, "mark": {"type": "circle", "size": 80, "color": "#4472C4", "opacity": 1}},
  {"data": {"values": [{"x": 36, "y": 36}, {"x": 52, "y": 52}]}, "mark": {"type": "line", "color": "black", "strokeWidth": 4}, "encoding": {}},
  {"data": {"values": [{"x": 36, "y": 39.21}, {"x": 50.13, "y": 52}]}, "mark": {"type": "line", "color": "#FF0000", "strokeWidth": 2.7, "strokeDash": [14, 7, 2.5, 6.2]}, "encoding": {}},
  {"data": {"values": [{"x": 37.47, "y": 36}, {"x": 52, "y": 49.15}]}, "mark": {"type": "line", "color": "#FF0000", "strokeWidth": 2.7, "strokeDash": [14, 7, 2.5, 6.2]}, "encoding": {}},
  {"data": {"values": [{"x": 36.95, "y": 37.80}, {"x": 49.21, "y": 48.90}]}, "mark": {"type": "line", "color": "#FF0000", "strokeWidth": 7.5, "strokeDash": [0.5, 15.7], "strokeCap": "round"}, "encoding": {}},
  {"data": {"values": [{"x": 38.56, "y": 49.68, "t": "T"}, {"x": 42.25, "y": 49.68, "t": "T"}, {"x": 41.18, "y": 48.70, "t": "S"}]}, "mark": {"type": "text", "font": "Liberation Serif", "fontSize": 31, "fontStyle": "italic", "align": "left", "baseline": "alphabetic", "color": "black"}, "encoding": {"text": {"field": "t", "type": "nominal"}}},
  {"data": {"values": [{"x": 38.90, "y": 49.525, "t": "max,C5M"}, {"x": 42.58, "y": 49.525, "t": "max,C10M"}, {"x": 41.48, "y": 48.52, "t": "95%"}]}, "mark": {"type": "text", "font": "Liberation Serif", "fontSize": 21, "fontStyle": "italic", "align": "left", "baseline": "alphabetic", "color": "black"}, "encoding": {"text": {"field": "t", "type": "nominal"}}},
  {"data": {"values": [{"x": 40.59, "y": 49.68, "t": "= 0.90"}, {"x": 44.50, "y": 49.68, "t": "+ 4.40 °C"}, {"x": 42.24, "y": 48.70, "t": "=2.27°C"}]}, "mark": {"type": "text", "font": "Liberation Serif", "fontSize": 31, "align": "left", "baseline": "alphabetic", "color": "black"}, "encoding": {"text": {"field": "t", "type": "nominal"}}},
  {"data": {"values": [{"x": 36.18, "y": 50.94, "t": "(b)"}]}, "mark": {"type": "text", "font": "Liberation Serif", "fontSize": 30, "fontWeight": "bold", "align": "left", "baseline": "alphabetic", "color": "black"}, "encoding": {"text": {"field": "t", "type": "nominal"}}},
  {"data": {"values": [{"x": 38.21, "y": 33.58, "t": "Package Maximum Surface Tempretaure,"}, {"x": 50.28, "y": 33.58, "t": "[°C]"}]}, "mark": {"type": "text", "font": "Liberation Serif", "fontSize": 32, "align": "left", "baseline": "alphabetic", "color": "black"}, "encoding": {"text": {"field": "t", "type": "nominal"}}},
  {"data": {"values": [{"x": 48.09, "y": 33.58, "t": "T"}]}, "mark": {"type": "text", "font": "Liberation Serif", "fontSize": 32, "fontStyle": "italic", "align": "left", "baseline": "alphabetic", "color": "black"}, "encoding": {"text": {"field": "t", "type": "nominal"}}},
  {"data": {"values": [{"x": 48.43, "y": 33.40, "t": "max,C10M"}]}, "mark": {"type": "text", "font": "Liberation Serif", "fontSize": 21, "fontStyle": "italic", "align": "left", "baseline": "alphabetic", "color": "black"}, "encoding": {"text": {"field": "t", "type": "nominal"}}},
  {"data": {"values": [{"x": 33.90, "y": 44.0, "t": "Package Maximum Surface Tempretaure,"}]}, "mark": {"type": "text", "font": "Liberation Serif", "fontSize": 32, "angle": 270, "align": "center", "baseline": "alphabetic", "color": "black"}, "encoding": {"text": {"field": "t", "type": "nominal"}}},
  {"data": {"values": [{"x": 34.65, "y": 41.83, "t": "T"}]}, "mark": {"type": "text", "font": "Liberation Serif", "fontSize": 32, "fontStyle": "italic", "angle": 270, "align": "left", "baseline": "alphabetic", "color": "black"}, "encoding": {"text": {"field": "t", "type": "nominal"}}},
  {"data": {"values": [{"x": 34.775, "y": 42.30, "t": "max,C5M"}]}, "mark": {"type": "text", "font": "Liberation Serif", "fontSize": 21, "fontStyle": "italic", "angle": 270, "align": "left", "baseline": "alphabetic", "color": "black"}, "encoding": {"text": {"field": "t", "type": "nominal"}}},
  {"data": {"values": [{"x": 34.65, "y": 44.76, "t": "[°C]"}]}, "mark": {"type": "text", "font": "Liberation Serif", "fontSize": 32, "angle": 270, "align": "left", "baseline": "alphabetic", "color": "black"}, "encoding": {"text": {"field": "t", "type": "nominal"}}}
]
}
]
}
